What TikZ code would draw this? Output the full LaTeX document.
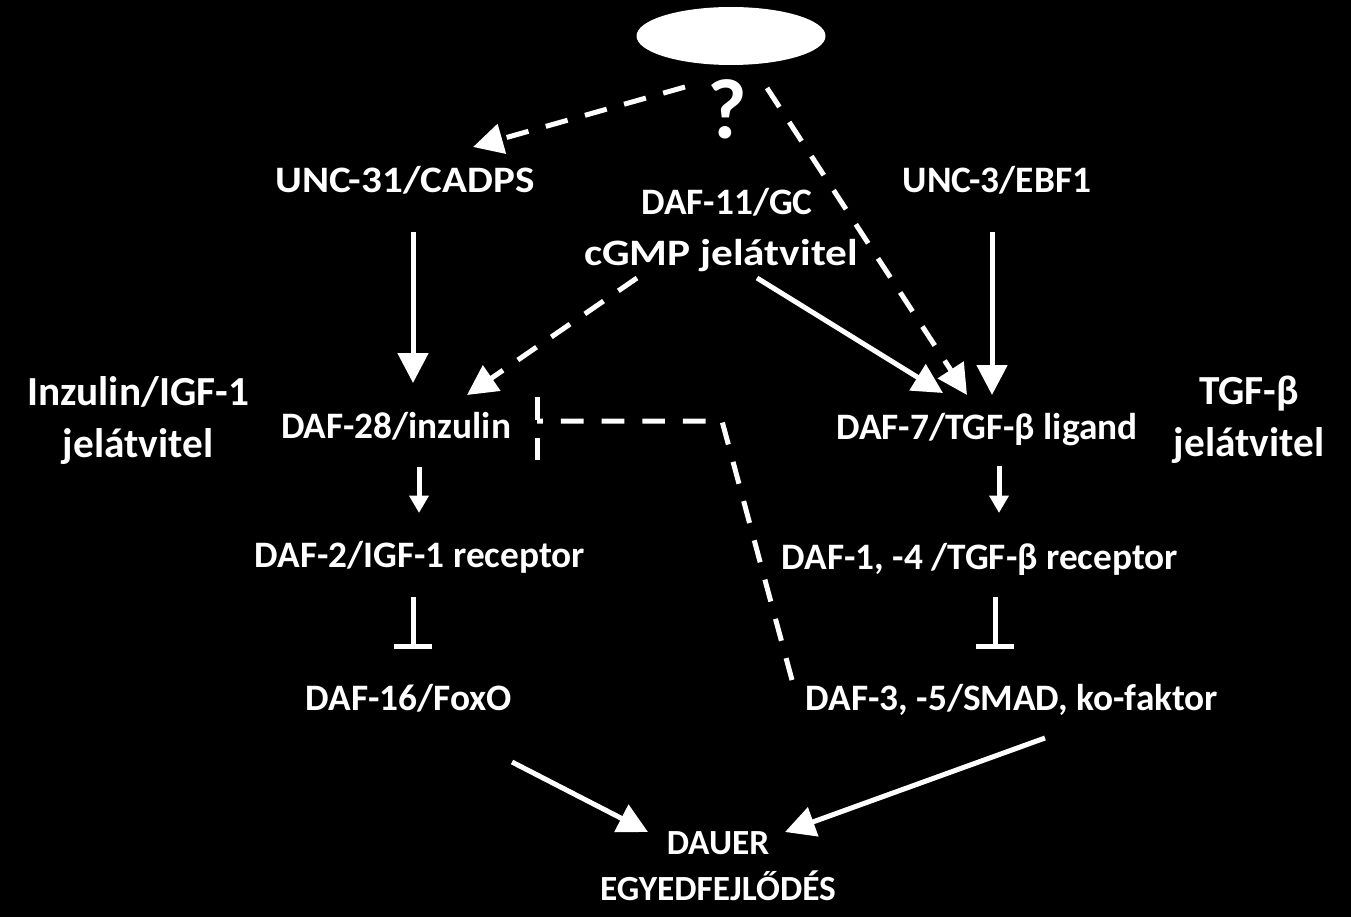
\documentclass[tikz,border=0pt]{standalone}
\usepackage{fontspec}
\setmainfont{Carlito}
\newfontfamily\widefont[FakeStretch=1.1]{Carlito}
\newfontfamily\widerfont[FakeStretch=1.16]{Carlito}
\usetikzlibrary{arrows.meta,calc,shapes.geometric}

\tikzset{
  gene/.style={text=white, inner sep=0pt, anchor=base, font=\bfseries\fontsize{28}{34}\selectfont},
  pathway/.style={text=white, inner sep=0pt, align=center, font=\bfseries\fontsize{31}{39}\selectfont},
  act/.style={draw=white, line width=3.75pt, -{Triangle[length=22.5pt,width=22.5pt]}},
  smallact/.style={draw=white, line width=3.75pt, -{Triangle[length=13pt,width=14pt]}},
  dashact/.style={act, dash pattern=on 17pt off 13.5pt},
  inhib/.style={draw=white, line width=3.75pt, -{Bar[width=28pt,line width=3.75pt]}},
  blockline/.style={draw=white, line width=3.75pt, dash pattern=on 17pt off 13.5pt},
}

\begin{document}
\begin{tikzpicture}[x=0.75pt,y=-0.75pt]
    \fill[black] (0,0) rectangle (1351,917);
    \useasboundingbox (0,0) rectangle (1351,917);

    % signal and unknown step
    \node[ellipse, fill=white, minimum width=141.75pt, minimum height=43.5pt, inner sep=0pt] (env) at (731,36) {};
    \node[text=white, inner sep=0pt, anchor=base, font=\bfseries\fontsize{64}{70}\selectfont] (q) at (727,138) {?};

    % upstream
    \node[gene, font=\widefont\bfseries\fontsize{28}{34}\selectfont] (unc31) at (405,192) {UNC-31/CADPS};
    \node[gene] (daf11) at (727,214) {DAF-11/GC};
    \node[gene, font=\widerfont\bfseries\fontsize{28}{34}\selectfont] (cgmp) at (721,265) {cGMP jelátvitel};
    \node[gene] (unc3) at (997,192) {UNC-3/EBF1};

    % the two pathways
    \node[pathway] (inzlbl) at (138,420) {Inzulin/IGF-1\\jelátvitel};
    \node[pathway] (tgflbl) at (1249,420) {TGF-β\\jelátvitel};
    \node[gene] (daf28) at (396,438) {DAF-28/inzulin};
    \node[gene] (daf7) at (987,439) {DAF-7/TGF-β ligand};
    \node[gene] (daf2) at (420,567) {DAF-2/IGF-1 receptor};
    \node[gene] (daf14) at (980,569) {DAF-1, -4 /TGF-β receptor};
    \node[gene] (daf16) at (409,710) {DAF-16/FoxO};
    \node[gene] (daf3) at (1012,710) {DAF-3, -5/SMAD, ko-faktor};

    % outcome
    \node[gene, anchor=center, align=center, font=\bfseries\fontsize{26.5}{34}\selectfont] (dauer) at (718,866) {DAUER\\EGYEDFEJLŐDÉS};

    % connectors
    \draw[dashact] ($(q.base)+(-42,-51)$) -- ($(unc31.base)+(68,-45)$);
    \draw[dashact] ($(q.base)+(40,-50)$) -- ($(daf7.base)+(-20,-44)$);
    \draw[act] ($(unc31.base)+(8,40)$) -- ($(daf28.base)+(17,-55)$);
    \draw[dashact] ($(cgmp.base)+(-84,13)$) -- ($(daf28.base)+(71,-43)$);
    \draw[act] ($(cgmp.base)+(36,13)$) -- ($(daf7.base)+(-44,-46)$);
    \draw[act] ($(unc3.base)+(-5,40)$) -- ($(daf7.base)+(5,-44)$);
    \draw[smallact] ($(daf28.base)+(23,29)$) -- ($(daf2.base)+(-1,-54)$);
    \draw[smallact] ($(daf7.base)+(12,27)$) -- ($(daf14.base)+(19,-56)$);
    \draw[inhib] ($(daf2.base)+(-7,30)$) -- ($(daf16.base)+(4,-61)$);
    \draw[inhib] ($(daf14.base)+(15,28)$) -- ($(daf3.base)+(-17,-61)$);

    % SMAD block on insulin
    \coordinate (kink) at (722,421);
    \coordinate (stop) at (537,421);
    \draw[blockline] ($(daf3.base)+(-220,-30)$) -- (kink) -- (stop);
    \draw[blockline] ($(stop)+(0,-24)$) -- ($(stop)+(0,39)$);

    \draw[act] ($(daf16.base)+(103,52)$) -- ($(dauer.center)+(-70,-34)$);
    \draw[act] ($(daf3.base)+(33,28)$) -- ($(dauer.center)+(67,-34)$);
\end{tikzpicture}
\end{document}
